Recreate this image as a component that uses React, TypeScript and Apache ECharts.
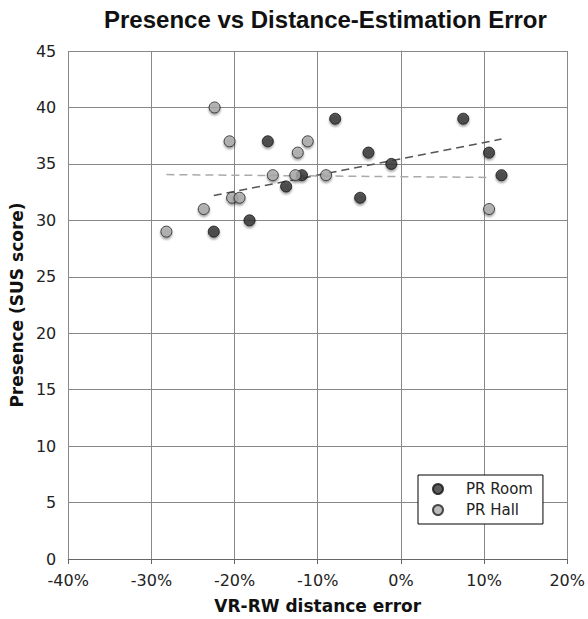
import React, { useEffect, useRef } from "react";
import * as echarts from "echarts";

// x: VR-RW distance error (%), y: SUS presence score
const roomX = [-22.5, -18.2, -16.0, -13.8, -11.9, -7.9, -4.9, -3.9, -1.15, 7.5, 10.6, 12.1];
const roomY = [29, 30, 37, 33, 34, 39, 32, 36, 35, 39, 36, 34];
const hallX = [-28.2, -23.7, -22.4, -20.6, -20.3, -19.4, -15.4, -12.7, -12.4, -11.2, -9.0, 10.6];
const hallY = [29, 31, 40, 37, 32, 32, 34, 34, 36, 37, 34, 31];
// trend lines
const roomTrendX = [-22.5, 12.1];
const roomTrendY = [32.2, 37.2];
const hallTrendX = [-28.2, 10.6];
const hallTrendY = [34.05, 33.8];

const seriesNames = ["PR Room", "PR Hall"];
const titleText = "Presence vs Distance-Estimation Error";
const xTitle = "VR-RW distance error";
const yTitle = "Presence (SUS score)";

const zip = (xs: number[], ys: number[]) => xs.map((x, i) => [x, ys[i]]);

export default function App() {
  const ref = useRef<HTMLDivElement>(null);
  useEffect(() => {
    if (!ref.current) return;
    const chart = echarts.init(ref.current, null, { renderer: "svg" });
    const tickFont = { fontFamily: "DejaVu Sans", fontSize: 16, color: "#222" };
    const shadow = {
      shadowBlur: 2,
      shadowOffsetY: 2,
      shadowColor: "rgba(0,0,0,0.45)",
    };
    chart.setOption({
      animation: false,
      backgroundColor: "#fff",
      title: {
        text: titleText,
        left: 104,
        top: 8,
        padding: 0,
        textStyle: {
          fontFamily: "Liberation Sans",
          fontWeight: "bold",
          fontSize: 24,
          lineHeight: 23,
          color: "#111",
        },
      },
      grid: { left: 68, right: 16, top: 51, bottom: 60, containLabel: false },
      legend: {
        data: seriesNames,
        orient: "vertical",
        left: 418,
        top: 475,
        padding: [6, 10, 6, 14],
        itemGap: 5,
        itemWidth: 10,
        itemHeight: 10,
        borderColor: "#000",
        borderWidth: 1,
        backgroundColor: "#fff",
        textStyle: {
          fontFamily: "DejaVu Sans",
          fontSize: 15,
          color: "#222",
          lineHeight: 16,
          padding: [0, 0, 0, 18],
        },
      },
      xAxis: {
        type: "value",
        min: -40,
        max: 20,
        interval: 10,
        name: xTitle,
        nameLocation: "middle",
        nameGap: 38,
        nameTextStyle: {
          fontFamily: "DejaVu Sans",
          fontWeight: "bold",
          fontSize: 17,
          color: "#111",
        },
        axisLine: { show: true, lineStyle: { color: "#666", width: 1 } },
        axisTick: { show: true, length: 5, lineStyle: { color: "#666" } },
        axisLabel: { ...tickFont, margin: 13, formatter: (v: number) => `${v}%` },
        splitLine: { show: true, lineStyle: { color: "#888", width: 1 } },
      },
      yAxis: {
        type: "value",
        min: 0,
        max: 45,
        interval: 5,
        name: yTitle,
        nameLocation: "middle",
        nameGap: 40,
        nameTextStyle: {
          fontFamily: "DejaVu Sans",
          fontWeight: "bold",
          fontSize: 17,
          color: "#111",
        },
        axisLine: { show: true, lineStyle: { color: "#888", width: 1 } },
        axisTick: { show: false },
        axisLabel: { ...tickFont, margin: 12 },
        splitLine: { show: true, lineStyle: { color: "#888", width: 1 } },
      },
      series: [
        {
          name: "roomTrend",
          type: "line",
          data: zip(roomTrendX, roomTrendY),
          symbol: "none",
          silent: true,
          z: 1,
          lineStyle: { color: "#555", width: 1.5, type: [8, 5] },
        },
        {
          name: "hallTrend",
          type: "line",
          data: zip(hallTrendX, hallTrendY),
          symbol: "none",
          silent: true,
          z: 1,
          lineStyle: { color: "#aaa", width: 1.5, type: [8, 5] },
        },
        {
          name: seriesNames[0],
          type: "scatter",
          data: zip(roomX, roomY),
          symbol: "circle",
          symbolSize: 11,
          z: 3,
          itemStyle: { color: "#333", borderColor: "#111", borderWidth: 1, ...shadow },
        },
        {
          name: seriesNames[1],
          type: "scatter",
          data: zip(hallX, hallY),
          symbol: "circle",
          symbolSize: 11,
          z: 3,
          itemStyle: { color: "#aaa", borderColor: "#222", borderWidth: 1, ...shadow },
        },
      ],
    });
    return () => chart.dispose();
  }, []);
  return (
    <div
      ref={ref}
      style={{ position: "absolute", left: 0, top: 0, width: 588, height: 619 }}
    />
  );
}
